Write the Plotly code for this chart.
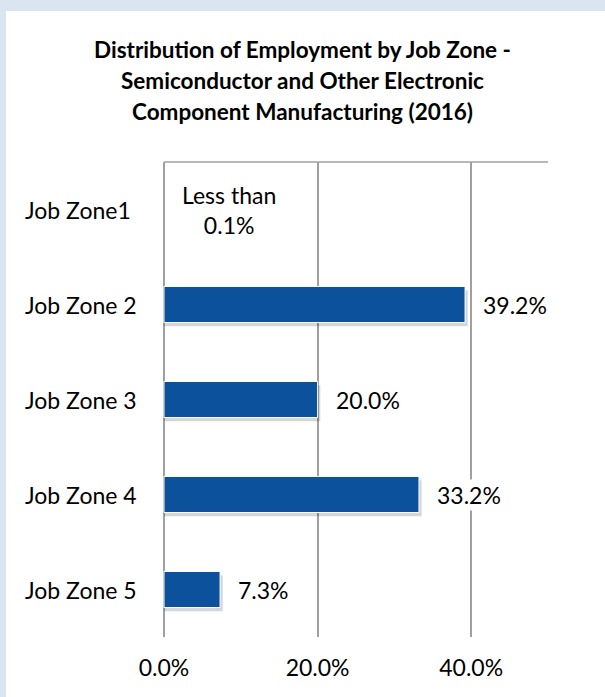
import plotly.graph_objects as go

categories = ["Job Zone1", "Job Zone 2", "Job Zone 3", "Job Zone 4", "Job Zone 5"]
values = [0.0, 39.2, 20.0, 33.2, 7.3]
value_labels = ["Less than<br>0.1%", "39.2%", "20.0%", "33.2%", "7.3%"]
tick_vals = [0, 20, 40]
tick_text = ["0.0%", "20.0%", "40.0%"]
title_lines = ["Distribution of Employment by Job Zone -",
               "Semiconductor and Other Electronic",
               "Component Manufacturing (2016)"]

W, H = 605, 697
ML, MR, MT, MB = 162, 57, 162, 60
PW, PH = W - ML - MR, H - MT - MB
FONT = "Lato"
FS = 23
BAR_W = 0.38
X_MIN, X_MAX = -0.26, 50


def px_x(p):
    return (p - ML) / PW


def px_y(p):
    return (H - MB - p) / PH


fig = go.Figure()

# shadow
fig.add_trace(go.Bar(
    y=categories, x=[v + 0.35 if v > 0 else 0 for v in values], orientation="h",
    width=BAR_W, offset=-BAR_W / 2 + 0.04,
    marker=dict(color="rgba(0,0,0,0.16)", line=dict(width=0)),
    hoverinfo="skip", showlegend=False,
))
fig.add_trace(go.Bar(
    y=categories, x=values, orientation="h",
    width=BAR_W, offset=-BAR_W / 2,
    marker=dict(color="#0b519b",
                line=dict(color="#ffffff", width=[1 if v > 0 else 0 for v in values])),
    showlegend=False,
))

# value labels
for c, v, t in zip(categories, values, value_labels):
    fig.add_annotation(x=v, y=c, xref="x", yref="y", text=t, showarrow=False,
                       xanchor="left", xshift=16, align="center",
                       bgcolor="#ffffff" if v > 0 else None, borderpad=1,
                       font=dict(family=FONT, size=FS, color="#000000"))

# category labels (left aligned)
for c in categories:
    fig.add_annotation(x=px_x(23), y=c, xref="paper", yref="y", text=c, showarrow=False,
                       xanchor="left",
                       font=dict(family=FONT, size=FS, color="#000000"))

# title lines
for i, line in enumerate(title_lines):
    fig.add_annotation(x=px_x(W / 2), y=px_y(50 + 30.5 * i), xref="paper", yref="paper",
                       text="<b>" + line + "</b>", showarrow=False,
                       xanchor="center", yanchor="middle",
                       font=dict(family=FONT, size=22.5, color="#000000"))

# white panel inside light blue frame
fig.add_shape(type="rect", xref="paper", yref="paper",
              x0=px_x(6), x1=px_x(W + 20), y0=px_y(H + 20), y1=px_y(11),
              fillcolor="#ffffff", line=dict(width=0), layer="below")
# top border line
fig.add_shape(type="line", xref="x", yref="paper", x0=0, x1=X_MAX, y0=1, y1=1,
              line=dict(color="#a0a0a0", width=1.5))

fig.update_layout(
    width=W, height=H,
    margin=dict(l=ML, r=MR, t=MT, b=MB),
    paper_bgcolor="#dbe5f1",
    plot_bgcolor="rgba(0,0,0,0)",
    barmode="overlay",
    font=dict(family=FONT, size=FS, color="#000000"),
    xaxis=dict(range=[X_MIN, X_MAX], tickvals=tick_vals, ticktext=tick_text,
               showgrid=True, gridcolor="#a0a0a0", gridwidth=1.5,
               zeroline=False, showline=False,
               ticks="outside", ticklen=10, tickcolor="rgba(0,0,0,0)",
               tickfont=dict(family=FONT, size=FS, color="#000000")),
    yaxis=dict(categoryorder="array", categoryarray=categories,
               autorange="reversed", showticklabels=False, showgrid=False,
               zeroline=False, showline=False),
)

fig.write_html("out.html", config={"displayModeBar": False},
               post_script="document.body.style.margin='0';")
